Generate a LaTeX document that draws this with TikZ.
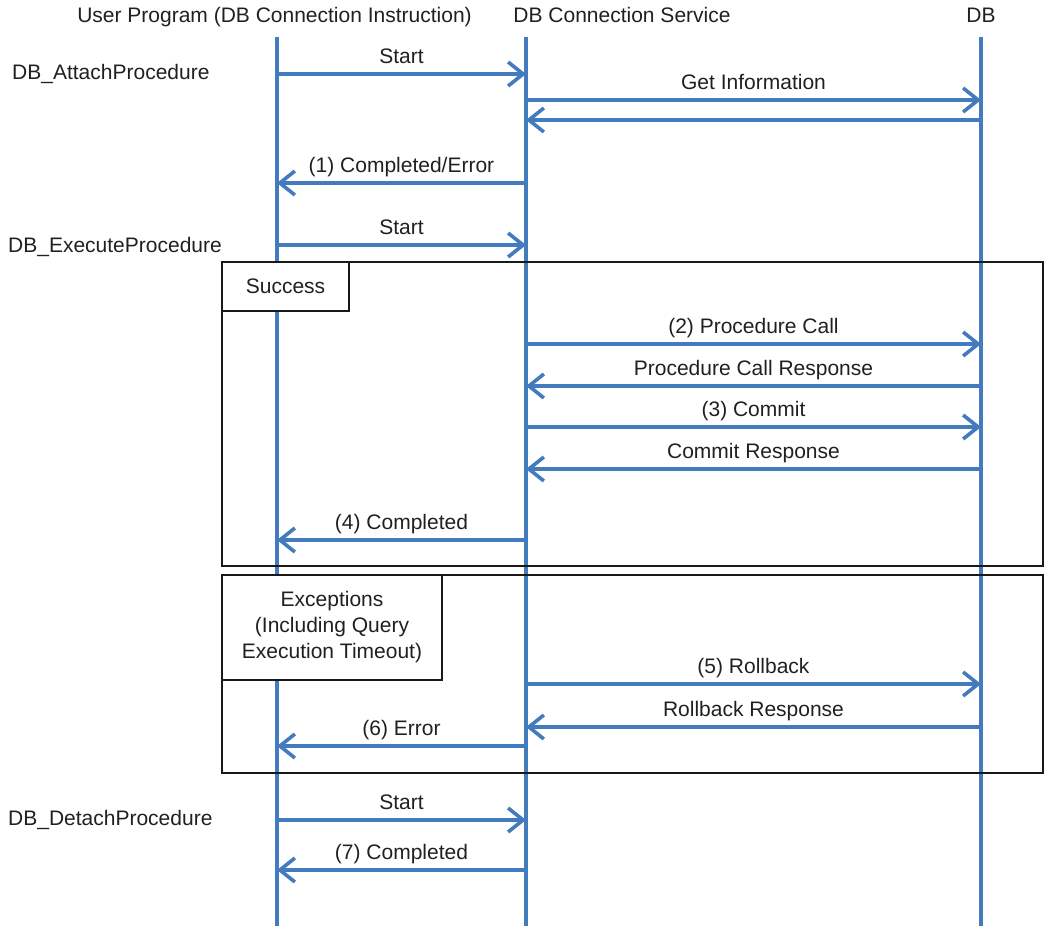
\documentclass[tikz,border=0pt]{standalone}
\usepackage{fontspec}
\setmainfont{Liberation Sans}
\usetikzlibrary{arrows.meta}
\definecolor{lifeblue}{RGB}{68,122,190}
\definecolor{txt}{RGB}{35,31,32}
\begin{document}
\begin{tikzpicture}[x=1pt,y=-1pt,
  every node/.style={font=\fontsize{21}{26}\selectfont, text=txt, inner sep=0pt},
  life/.style={draw=lifeblue, line width=3.6pt},
  msg/.style={draw=lifeblue, line width=3.6pt, -{Straight Barb[length=15pt,width=24pt,line width=3.6pt]}},
  lbl/.style={anchor=base, yshift=10.5pt},
  frame/.style={draw=black!90, line width=2pt},
  tagbox/.style={draw=black!90, line width=2pt, fill=white}]
\useasboundingbox (0,0) rectangle (1044,926);
% headers
\node[anchor=base] (hu) at (274.5,22) {User Program (DB Connection Instruction)};
\node[anchor=base] (hs) at (622,22) {DB Connection Service};
\node[anchor=base] (hd) at (981,22) {DB};
% lifelines
\coordinate (U) at (277,37);
\coordinate (S) at (526,37);
\coordinate (D) at (981,37);
\coordinate (Ub) at (277,926);
\coordinate (Sb) at (526,926);
\coordinate (Db) at (981,926);
\draw[life] (U) -- (Ub);
\draw[life] (S) -- (Sb);
\draw[life] (D) -- (Db);
% left labels
\node[anchor=base west] (a1) at (12,79) {DB\_AttachProcedure};
\node[anchor=base west] (a2) at (8,252) {DB\_ExecuteProcedure};
\node[anchor=base west] (a3) at (8,825) {DB\_DetachProcedure};
% frames
\draw[frame] (222,262) rectangle (1043,566);
\node[tagbox, minimum width=127pt, minimum height=49pt] (succ) at (285.5,286.5) {Success};
\draw[frame] (222,575) rectangle (1043,773);
\node[tagbox, minimum width=220pt, minimum height=105pt, align=center] (exc) at (332,627.5) {Exceptions\\(Including Query\\Execution Timeout)};
% messages
\draw[msg] (U |- 0,74) -- node[lbl]{Start} (S |- 0,74);
\draw[msg] (S |- 0,100) -- node[lbl]{Get Information} (D |- 0,100);
\draw[msg] (D |- 0,120) -- (S |- 0,120);
\draw[msg] (S |- 0,183) -- node[lbl]{(1) Completed/Error} (U |- 0,183);
\draw[msg] (U |- 0,245) -- node[lbl]{Start} (S |- 0,245);
\draw[msg] (S |- 0,344) -- node[lbl]{(2) Procedure Call} (D |- 0,344);
\draw[msg] (D |- 0,386) -- node[lbl]{Procedure Call Response} (S |- 0,386);
\draw[msg] (S |- 0,427) -- node[lbl]{(3) Commit} (D |- 0,427);
\draw[msg] (D |- 0,469) -- node[lbl]{Commit Response} (S |- 0,469);
\draw[msg] (S |- 0,540) -- node[lbl]{(4) Completed} (U |- 0,540);
\draw[msg] (S |- 0,684) -- node[lbl]{(5) Rollback} (D |- 0,684);
\draw[msg] (D |- 0,727) -- node[lbl]{Rollback Response} (S |- 0,727);
\draw[msg] (S |- 0,746) -- node[lbl]{(6) Error} (U |- 0,746);
\draw[msg] (U |- 0,820) -- node[lbl]{Start} (S |- 0,820);
\draw[msg] (S |- 0,870) -- node[lbl]{(7) Completed} (U |- 0,870);
\end{tikzpicture}
\end{document}
